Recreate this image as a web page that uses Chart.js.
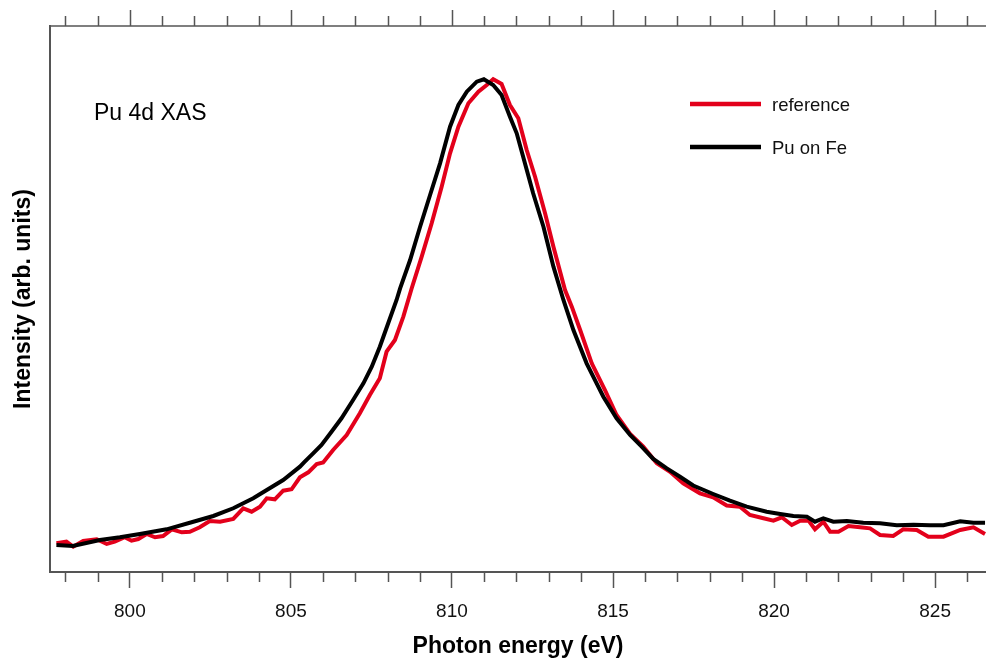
<!DOCTYPE html>
<html>
<head>
<meta charset="utf-8">
<script src="https://cdn.jsdelivr.net/npm/chart.js@4.4.1/dist/chart.umd.min.js"></script>
<style>
  html, body { margin: 0; padding: 0; background: #fff; }
</style>
</head>
<body>
<canvas id="xas" width="986" height="662"></canvas>
<script>
// values (energy in eV, intensity in arb. units, 0..100)
var energyRef = [797.72, 798.03, 798.24, 798.55, 798.97, 799.28, 799.53, 799.84, 800.05, 800.26,
  800.52, 800.78, 801.03, 801.30, 801.61, 801.86, 802.17, 802.48, 802.80, 803.21,
  803.52, 803.78, 804.04, 804.25, 804.50, 804.76, 805.02, 805.28, 805.54, 805.80,
  806.00, 806.31, 806.73, 807.14, 807.45, 807.76, 807.97, 808.23, 808.49, 808.75,
  809.06, 809.37, 809.68, 809.94, 810.20, 810.51, 810.82, 811.08, 811.28, 811.54,
  811.80, 812.06, 812.32, 812.58, 812.89, 813.15, 813.51, 813.72, 813.98, 814.34,
  814.75, 815.11, 815.53, 815.94, 816.36, 816.77, 817.18, 817.70, 818.11, 818.53,
  818.94, 819.25, 819.67, 819.98, 820.24, 820.55, 820.81, 821.07, 821.27, 821.53,
  821.74, 822.00, 822.31, 822.67, 822.98, 823.29, 823.70, 824.01, 824.43, 824.79,
  825.26, 825.78, 826.19, 826.55]
var intensityRef = [5.26, 5.55, 4.63, 5.68, 5.99, 5.13, 5.55, 6.36, 5.73, 6.04,
  6.96, 6.36, 6.59, 7.82, 7.27, 7.38, 8.19, 9.34, 9.21, 9.71,
  11.67, 11.04, 11.96, 13.50, 13.32, 14.89, 15.15, 17.34, 18.26, 19.78,
  20.05, 22.34, 25.09, 29.07, 32.42, 35.48, 40.35, 42.49, 46.76, 51.96,
  57.75, 63.86, 70.57, 76.68, 81.56, 85.84, 87.97, 89.19, 90.24, 89.38,
  85.53, 83.10, 77.29, 72.40, 65.70, 59.58, 51.65, 48.59, 44.32, 38.22,
  33.33, 28.75, 25.27, 22.95, 19.91, 18.37, 16.25, 14.41, 13.68, 12.18,
  11.96, 10.44, 9.84, 9.40, 10.02, 8.61, 9.40, 9.40, 7.82, 9.21,
  7.38, 7.38, 8.42, 8.19, 8.00, 6.78, 6.59, 7.82, 7.69, 6.47,
  6.47, 7.69, 8.19, 6.96]

var energyPu = [797.72, 798.23, 799.07, 799.69, 800.31, 801.14, 801.97, 802.59, 803.21, 803.83,
  804.25, 804.76, 805.28, 805.43, 805.69, 805.95, 806.26, 806.57, 806.93, 807.25,
  807.51, 807.76, 808.02, 808.28, 808.39, 808.70, 809.01, 809.32, 809.63, 809.94,
  810.20, 810.46, 810.77, 810.99, 811.28, 811.54, 811.80, 812.01, 812.21, 812.52,
  812.84, 813.15, 813.46, 813.77, 814.18, 814.44, 814.70, 815.11, 815.53, 815.89,
  816.25, 816.67, 817.08, 817.49, 818.11, 818.63, 819.15, 819.77, 820.19, 820.60,
  821.02, 821.27, 821.53, 821.84, 822.26, 822.77, 823.29, 823.81, 824.33, 824.84,
  825.26, 825.78, 826.19, 826.55]
var intensityPu = [4.95, 4.76, 5.86, 6.36, 6.96, 7.82, 9.21, 10.26, 11.67, 13.50,
  15.02, 16.85, 19.29, 20.20, 21.74, 23.26, 25.70, 28.15, 31.50, 34.56,
  37.60, 41.26, 45.55, 49.82, 51.96, 57.14, 63.24, 69.05, 74.85, 81.56,
  85.53, 87.97, 89.80, 90.24, 89.19, 87.36, 83.39, 80.35, 76.06, 69.36,
  63.24, 55.92, 49.82, 44.32, 38.22, 35.16, 32.11, 28.15, 25.09, 22.95,
  20.70, 18.99, 17.45, 15.84, 14.29, 13.06, 11.96, 11.04, 10.62, 10.26,
  10.13, 9.21, 9.84, 9.21, 9.34, 9.03, 8.92, 8.55, 8.66, 8.55,
  8.55, 9.29, 9.03, 9.03]

var energyTicks = [800, 805, 810, 815, 820, 825]
var seriesNames = ['reference', 'Pu on Fe']
var seriesColors = ['#e3001b', '#000000']

var FONT = '"Liberation Sans", Arial, sans-serif'
var AXIS = '#555555'

function toPoints (xs, ys) {
  var pts = []
  for (var i = 0; i < xs.length; i++) pts.push({ x: xs[i], y: ys[i] })
  return pts
}

// minor ticks, top axis, inset label and legend
var decor = {
  id: 'decor',
  afterDraw: function (chart) {
    var ctx = chart.ctx
    var area = chart.chartArea
    var xs = chart.scales.x
    ctx.save()
    ctx.strokeStyle = AXIS
    ctx.lineWidth = 1.5
    ctx.beginPath()
    ctx.moveTo(area.left - 1, area.top)
    ctx.lineTo(area.right, area.top)
    for (var v = Math.ceil(xs.min); v <= xs.max; v++) {
      var px = Math.round(xs.getPixelForValue(v)) + 0.5
      var major = v % 5 === 0
      ctx.moveTo(px, area.top)
      ctx.lineTo(px, area.top - (major ? 16 : 10))
      if (!major) {
        ctx.moveTo(px, area.bottom)
        ctx.lineTo(px, area.bottom + 10)
      }
    }
    ctx.stroke()

    ctx.fillStyle = '#000'
    ctx.font = '23px ' + FONT
    ctx.textBaseline = 'alphabetic'
    ctx.textAlign = 'left'
    ctx.fillText('Pu 4d XAS', 94, 120)

    ctx.font = '18.5px ' + FONT
    ctx.textBaseline = 'middle'
    chart.data.datasets.forEach(function (ds, i) {
      var y = 104 + i * 43
      ctx.strokeStyle = ds.borderColor
      ctx.lineWidth = 4.5
      ctx.beginPath()
      ctx.moveTo(690, y)
      ctx.lineTo(761, y)
      ctx.stroke()
      ctx.fillStyle = '#111'
      ctx.fillText(ds.label, 772, y + 2)
    })
    ctx.restore()
  }
}

new Chart(document.getElementById('xas').getContext('2d'), {
  type: 'line',
  data: {
    datasets: [
      {
        label: seriesNames[0],
        data: toPoints(energyRef, intensityRef),
        borderColor: seriesColors[0],
        borderWidth: 4,
        pointRadius: 0,
        tension: 0,
        fill: false,
        order: 1
      },
      {
        label: seriesNames[1],
        data: toPoints(energyPu, intensityPu),
        borderColor: seriesColors[1],
        borderWidth: 4,
        pointRadius: 0,
        tension: 0,
        fill: false,
        order: 0
      }
    ]
  },
  options: {
    responsive: false,
    animation: false,
    layout: { padding: { top: 26, left: 0, right: 0, bottom: 0 } },
    plugins: { legend: { display: false }, tooltip: { enabled: false } },
    scales: {
      x: {
        type: 'linear',
        min: 797.52,
        max: 826.58,
        afterBuildTicks: function (scale) {
          scale.ticks = energyTicks.map(function (v) { return { value: v } })
        },
        afterFit: function (scale) { scale.height = 90 },
        ticks: {
          autoSkip: false,
          maxRotation: 0,
          padding: 12,
          color: '#111',
          font: { family: FONT, size: 19 },
          callback: function (v) { return String(v) }
        },
        grid: { drawOnChartArea: false, drawTicks: true, tickLength: 16, tickColor: AXIS, tickWidth: 1.5 },
        border: { display: true, color: AXIS, width: 2 },
        title: {
          display: true,
          text: 'Photon energy (eV)',
          color: '#000',
          font: { family: FONT, size: 23, weight: 'bold' },
          padding: { top: 0, bottom: 2 }
        }
      },
      y: {
        min: 0,
        max: 100,
        afterFit: function (scale) { scale.width = 50 },
        ticks: { display: false },
        grid: { display: false },
        border: { display: true, color: AXIS, width: 2 },
        title: {
          display: true,
          text: 'Intensity (arb. units)',
          color: '#000',
          font: { family: FONT, size: 23, weight: 'bold' },
          padding: { top: 10, bottom: 0 }
        }
      }
    }
  },
  plugins: [decor]
})
</script>
</body>
</html>
